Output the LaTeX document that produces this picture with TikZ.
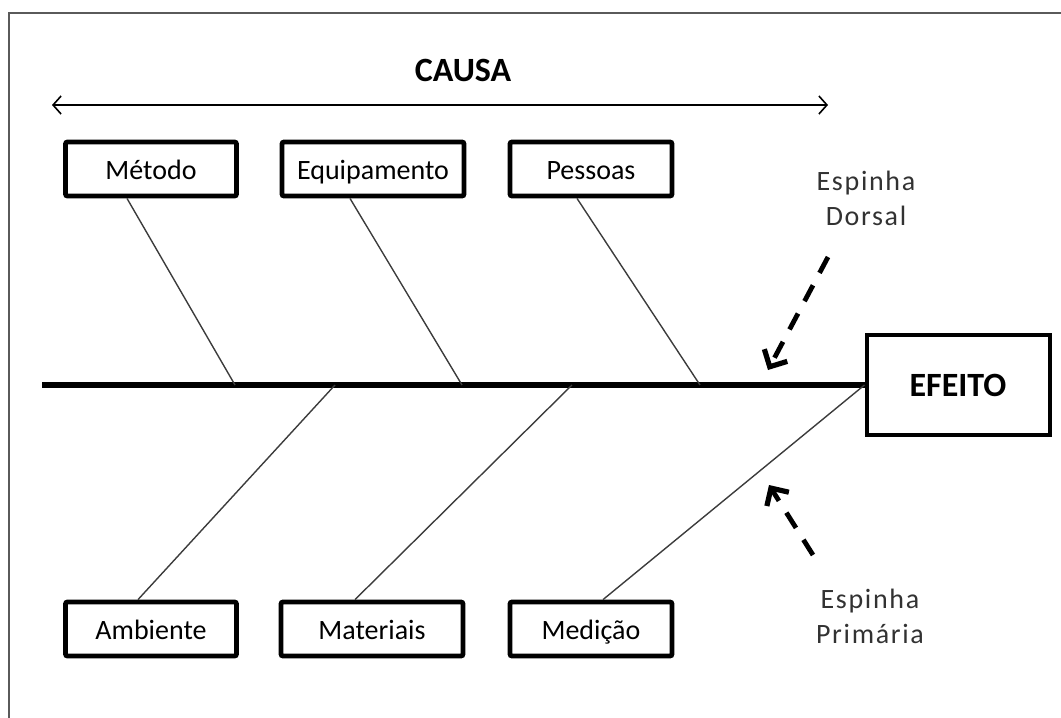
\documentclass[tikz,border=0pt]{standalone}
\usepackage{fontspec}
\setmainfont{Carlito}
\newfontfamily\spinefont[LetterSpace=6]{Carlito}
\usepackage{xcolor}
\usepackage{tikz}
\usetikzlibrary{calc,arrows.meta}
\definecolor{framegray}{RGB}{90,90,90}
\definecolor{bonegray}{RGB}{60,60,60}
\definecolor{notegray}{RGB}{50,50,50}

\begin{document}
\begin{tikzpicture}
    [%%%%%%%%%%%%%%%%%%%%%%%%%%%%%%
        x=0.5pt, y=-0.5pt,
        causebox/.style={draw=black, line width=2.4pt, rounded corners=1pt, minimum height=27pt, inner sep=0pt, text height=12pt, text depth=1.5pt, font=\fontsize{14}{16}\selectfont},
        bone/.style={draw=bonegray, line width=0.7pt},
        spine/.style={line width=2.8pt},
        note/.style={text=notegray, align=center, font=\spinefont\fontsize{14}{17.5}\selectfont},
        hint/.style={line width=2.4pt, dash pattern=on 9pt off 7pt, -{Straight Barb[length=6.5pt,width=13pt,line width=2.6pt]}},
    ]%%%%%%%%%%%%%%%%%%%%%%%%%%%%%%

\useasboundingbox (0,0) rectangle (1061,718);
\draw[framegray, line width=1.2pt] (9,718) -- (9,13) -- (1061,13);

% causa
\node[font=\bfseries\fontsize{17}{20}\selectfont] (causa) at (463,70) {CAUSA};
\coordinate (causaL) at (52,105);
\coordinate (causaR) at (828,105);
\draw[line width=0.8pt, {Straight Barb[length=4pt,width=9pt]}-{Straight Barb[length=4pt,width=9pt]}] (causaL) -- (causaR);

% caixas
\node[causebox, minimum width=85.5pt] (metodo) at (151,169) {Método};
\node[causebox, minimum width=91pt] (equip) at (373,169) {Equipamento};
\node[causebox, minimum width=81pt] (pessoas) at (591,169) {Pessoas};
\node[causebox, minimum width=85.5pt] (ambiente) at (151,629) {Ambiente};
\node[causebox, minimum width=91pt] (materiais) at (372,629) {Materiais};
\node[causebox, minimum width=81pt] (medicao) at (591,629) {Medição};

\node[draw, line width=2pt, minimum width=91.5pt, minimum height=50pt, font=\bfseries\fontsize{17}{20}\selectfont] (efeito) at (958,385) {EFEITO};

% espinha dorsal
\coordinate (tail) at (42,385);
\draw[spine] (tail) -- (efeito.west);

\coordinate (sp1) at (235,385);
\coordinate (sp2) at (462,385);
\coordinate (sp3) at (700,385);
\coordinate (sp4) at (335,385);
\coordinate (sp5) at (572,385);

\draw[bone] ([xshift=-12pt]metodo.south) -- (sp1);
\draw[bone] ([xshift=-11.5pt]equip.south) -- (sp2);
\draw[bone] ([xshift=-7pt]pessoas.south) -- (sp3);
\draw[bone] (sp4) -- ([xshift=-6.5pt]ambiente.north);
\draw[bone] (sp5) -- ([xshift=-8.5pt]materiais.north);
\draw[bone] (efeito.west) -- ([xshift=6pt]medicao.north);

% notas
\node[note] (dorsal) at (866,198) {Espinha\\Dorsal};
\node[note] (primaria) at (870,616) {Espinha\\Primária};

\coordinate (dorsalTail) at (828,257);
\coordinate (dorsalTip) at (768,370);
\draw[hint] (dorsalTail) -- (dorsalTip);
\coordinate (primTail) at (813,555);
\coordinate (primTip) at (769,485);
\draw[hint] (primTail) -- (primTip);

\end{tikzpicture}
\end{document}
